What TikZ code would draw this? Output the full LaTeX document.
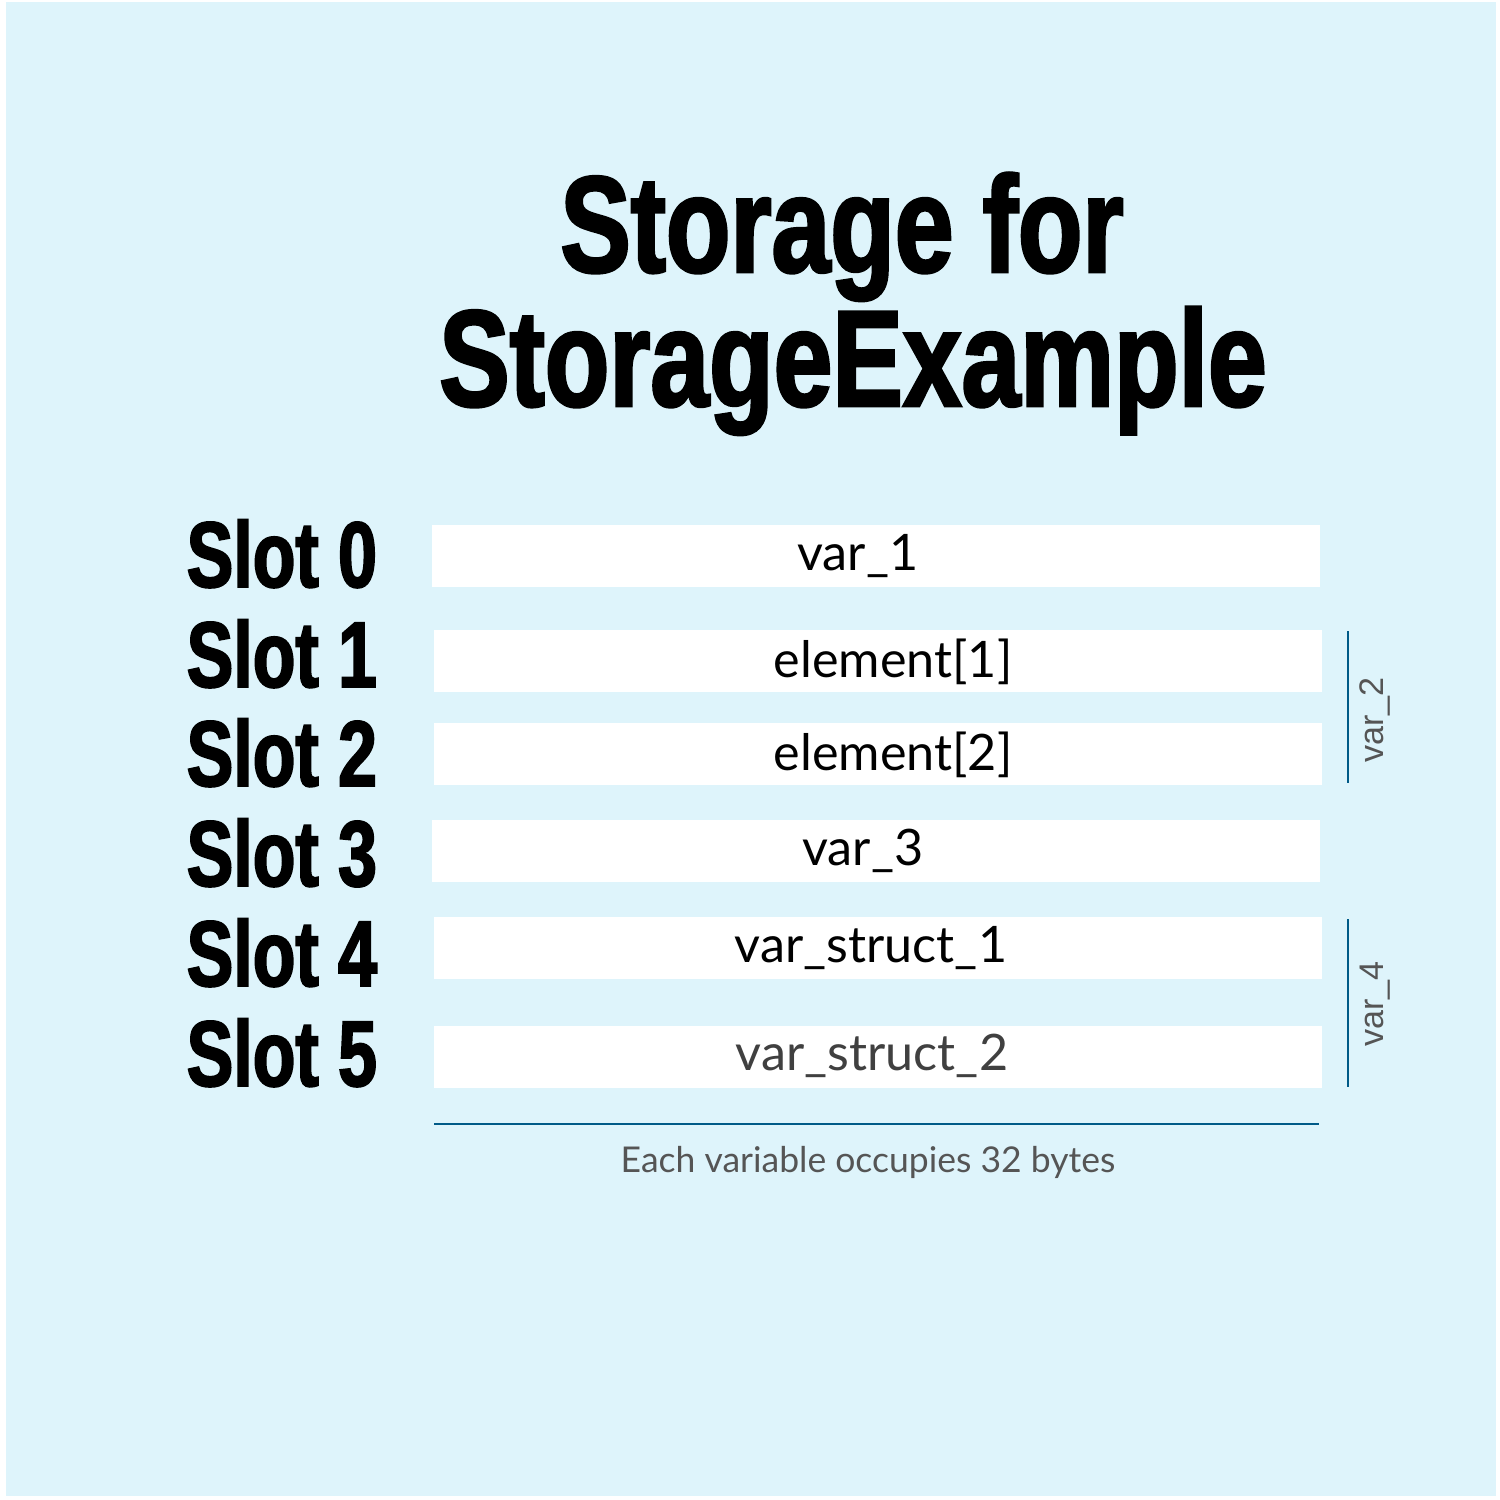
\documentclass[tikz,border=0pt]{standalone}
\usepackage{fontspec}
\newfontfamily\heavyfont{Liberation Sans Bold}[FakeStretch=0.75,FakeBold=2]
\newfontfamily\titlefont{Liberation Sans Bold}[FakeStretch=0.77,FakeBold=2]
\newfontfamily\latofont{Lato}
\newfontfamily\arialfont{Liberation Sans}
\definecolor{bgcyan}{RGB}{222,244,251}
\definecolor{linkblue}{RGB}{0,90,135}
\definecolor{labgray}{RGB}{85,85,85}
\definecolor{darkgray}{RGB}{64,64,64}
\begin{document}
\begin{tikzpicture}[x=0.01cm,y=-0.01cm,
  title/.style={anchor=base,inner sep=0pt,font=\titlefont\fontsize{39pt}{48pt}\selectfont},
  slotlab/.style={anchor=base west,inner sep=0pt,font=\heavyfont\fontsize{26.5pt}{32pt}\selectfont},
  slotbox/.style={fill=white,draw=none,inner sep=0pt,minimum width=8.88cm,minimum height=0.62cm,anchor=north west},
  boxtext/.style={anchor=base,inner sep=0pt,font=\latofont\fontsize{14.3pt}{17pt}\selectfont},
  sidelab/.style={anchor=base,inner sep=0pt,rotate=90,text=labgray,font=\arialfont\fontsize{9.7pt}{12pt}\selectfont},
  bracket/.style={draw=linkblue,line width=0.6pt}]
\useasboundingbox (0,0) rectangle (1500,1500);
\fill[white] (0,0) rectangle (1500,1500);
\fill[bgcyan] (6,2) rectangle (1496,1496);
% title
\node[title] (t1) at (842,272) {Storage for};
\node[title] (t2) at (853,406) {StorageExample};
% slot labels
\node[slotlab] (l0) at (186,587) {Slot 0};
\node[slotlab] (l1) at (186,687) {Slot 1};
\node[slotlab] (l2) at (186,786) {Slot 2};
\node[slotlab] (l3) at (186,886) {Slot 3};
\node[slotlab] (l4) at (186,986) {Slot 4};
\node[slotlab] (l5) at (186,1086) {Slot 5};
% boxes
\node[slotbox] (b0) at (431,524) {};
\node[slotbox] (b1) at (433,629) {};
\node[slotbox] (b2) at (433,722) {};
\node[slotbox] (b3) at (431,819) {};
\node[slotbox] (b4) at (433,916) {};
\node[slotbox] (b5) at (433,1025) {};
% box texts
\node[boxtext] (x0) at (858,570) {var\_1};
\node[boxtext] (x1) at (893,677) {element[1]};
\node[boxtext] (x2) at (893,770) {element[2]};
\node[boxtext] (x3) at (863,865) {var\_3};
\node[boxtext] (x4) at (871,962) {var\_struct\_1};
\node[boxtext,text=darkgray] (x5) at (872,1070) {var\_struct\_2};
% brackets
\coordinate (v2a) at (1348,631);
\coordinate (v2b) at (1348,783);
\coordinate (v4a) at (1348,919);
\coordinate (v4b) at (1348,1087);
\draw[bracket] (v2a) -- (v2b);
\draw[bracket] (v4a) -- (v4b);
\node[sidelab] (n2) at (1383,720) {var\_2};
\node[sidelab] (n4) at (1383,1004) {var\_4};
% bottom line and caption
\coordinate (la) at (434,1124);
\coordinate (lb) at (1319,1124);
\draw[bracket] (la) -- (lb);
\node[anchor=base,inner sep=0pt,text=labgray,font=\latofont\fontsize{10.1pt}{12pt}\selectfont] (cap) at (868,1172) {Each variable occupies 32 bytes};
\end{tikzpicture}
\end{document}
